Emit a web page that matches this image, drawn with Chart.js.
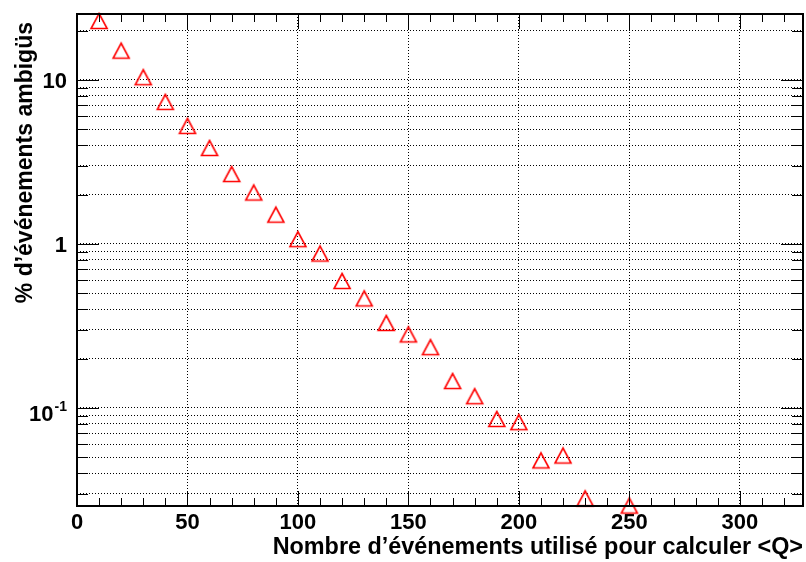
<!DOCTYPE html>
<html>
<head>
<meta charset="utf-8">
<script src="https://cdn.jsdelivr.net/npm/chart.js@4/dist/chart.umd.min.js"></script>
<style>
  html, body { margin: 0; padding: 0; background: #fff; }
  canvas { display: block; }
</style>
</head>
<body>
<canvas id="c" width="806" height="562"></canvas>
<script>
// ---- data ----
const nEvents = [10, 20, 30, 40, 50, 60, 70, 80, 90, 100, 110, 120, 130, 140, 150, 160, 170, 180, 190, 200, 210, 220, 230, 250];
const pctAmbiguous = [22.9, 15.1, 10.4, 7.35, 5.25, 3.85, 2.67, 2.06, 1.51, 1.07, 0.875, 0.595, 0.466, 0.33, 0.281, 0.235, 0.146, 0.118, 0.0857, 0.082, 0.0479, 0.0513, 0.0281, 0.0254];
const xTickValues = [0, 50, 100, 150, 200, 250, 300];
const yGridValues = [0.03, 0.04, 0.05, 0.06, 0.07, 0.08, 0.09, 0.1, 0.2, 0.3, 0.4, 0.5, 0.6, 0.7, 0.8, 0.9, 1, 2, 3, 4, 5, 6, 7, 8, 9, 10, 20];
const yTickLabels = [
  { value: 0.1, base: '10', exp: '-1' },
  { value: 1, base: '1', exp: '' },
  { value: 10, base: '10', exp: '' }
];
const xTitle = 'Nombre d\u2019\u00e9v\u00e9nements utilis\u00e9 pour calculer <Q>';
const yTitle = '% d\u2019\u00e9v\u00e9nements ambig\u00fcs';
const xMin = 0, xMax = 328.6;
const yMin = 0.02526, yMax = 25.26;

const FONT = '"Liberation Sans", Arial, Helvetica, sans-serif';

// open triangle marker (ROOT style 26), centred on its bounding box
function makeTriangle() {
  const c = document.createElement('canvas');
  c.width = 20; c.height = 20;
  const g = c.getContext('2d');
  g.strokeStyle = '#ff0000';
  g.lineWidth = 1.6;
  g.lineJoin = 'miter';
  g.beginPath();
  g.moveTo(2, 17.5);
  g.lineTo(18, 17.5);
  g.lineTo(10, 2.5);
  g.closePath();
  g.stroke();
  return c;
}
const triangle = makeTriangle();

const xMinorTicks = [];
for (let v = 10; v <= 320; v += 10) xMinorTicks.push(v);

const rootStyle = {
  id: 'rootStyle',
  afterDraw(chart) {
    const { ctx, chartArea: a, scales: { x, y } } = chart;
    ctx.save();
    ctx.strokeStyle = '#000';
    ctx.lineWidth = 1;
    ctx.setLineDash([]);
    ctx.beginPath();
    xMinorTicks.forEach(v => {
      const px = Math.round(x.getPixelForValue(v)) + 0.5;
      const len = (v % 50 === 0) ? 15 : 8;
      ctx.moveTo(px, a.bottom); ctx.lineTo(px, a.bottom - len);
      ctx.moveTo(px, a.top); ctx.lineTo(px, a.top + len);
    });
    yGridValues.forEach(v => {
      const py = Math.round(y.getPixelForValue(v)) + 0.5;
      const lg = Math.log10(v);
      const major = Math.abs(lg - Math.round(lg)) < 1e-9;
      const len = major ? 22 : 11;
      ctx.moveTo(a.left, py); ctx.lineTo(a.left + len, py);
      ctx.moveTo(a.right, py); ctx.lineTo(a.right - len, py);
    });
    ctx.stroke();
    // frame
    ctx.lineWidth = 2;
    ctx.strokeRect(a.left, a.top, a.right - a.left, a.bottom - a.top);

    // y tick labels
    ctx.fillStyle = '#000';
    ctx.textBaseline = 'middle';
    yTickLabels.forEach(t => {
      const py = y.getPixelForValue(t.value);
      const rightX = a.left - 10;
      if (!t.exp) {
        ctx.font = 'bold 22px ' + FONT;
        ctx.textAlign = 'right';
        ctx.fillText(t.base, rightX, py + 1.5);
      } else {
        ctx.font = 'bold 14px ' + FONT;
        const ew = ctx.measureText(t.exp).width;
        ctx.font = 'bold 22px ' + FONT;
        const bw = ctx.measureText(t.base).width;
        ctx.textAlign = 'left';
        ctx.fillText(t.base, rightX - ew - bw - 1, py + 7);
        ctx.font = 'bold 14px ' + FONT;
        ctx.fillText(t.exp, rightX - ew, py - 0.5);
      }
    });

    // y title
    ctx.font = 'bold 23px ' + FONT;
    ctx.translate(26, 22);
    ctx.rotate(-Math.PI / 2);
    ctx.textAlign = 'right';
    ctx.textBaseline = 'middle';
    ctx.fillText(yTitle, 0, 0);
    ctx.restore();
  }
};

new Chart(document.getElementById('c'), {
  type: 'scatter',
  data: {
    datasets: [{
      label: 'ambigus',
      data: nEvents.map((v, i) => ({ x: v, y: pctAmbiguous[i] })),
      pointStyle: triangle,
      pointRadius: 10,
      pointHoverRadius: 10,
      showLine: false,
      clip: false
    }]
  },
  options: {
    responsive: false,
    animation: false,
    devicePixelRatio: 1,
    layout: { autoPadding: false, padding: { top: 14, right: 3, bottom: 0, left: 0 } },
    plugins: { legend: { display: false }, tooltip: { enabled: false } },
    scales: {
      x: {
        type: 'linear',
        min: xMin,
        max: xMax,
        afterBuildTicks: s => { s.ticks = xTickValues.map(v => ({ value: v })); },
        afterFit: s => { s.height = 56; },
        grid: { color: '#000', lineWidth: 1, drawTicks: false },
        border: { display: false, dash: [1, 2] },
        ticks: {
          color: '#000',
          font: { family: FONT, size: 22, weight: 'bold' },
          padding: 4,
          maxRotation: 0,
          autoSkip: false
        },
        title: {
          display: true,
          text: xTitle,
          align: 'end',
          color: '#000',
          font: { family: FONT, size: 23.4, weight: 'bold' },
          padding: 0
        }
      },
      y: {
        type: 'logarithmic',
        min: yMin,
        max: yMax,
        afterBuildTicks: s => { s.ticks = yGridValues.map(v => ({ value: v })); },
        afterFit: s => { s.width = 77; },
        grid: { color: '#000', lineWidth: 1, drawTicks: false },
        border: { display: false, dash: [1, 2] },
        ticks: { display: false }
      }
    }
  },
  plugins: [rootStyle]
});
</script>
</body>
</html>
